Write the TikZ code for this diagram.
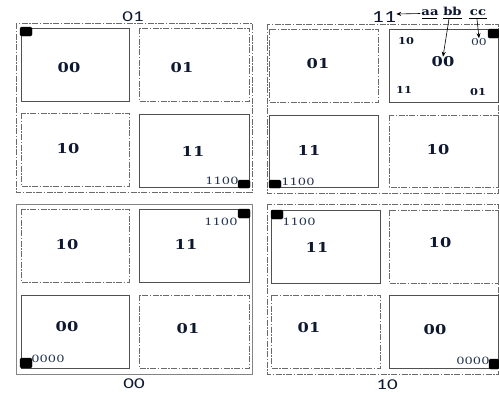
\documentclass[tikz,border=0pt]{standalone}
\usepackage{fontspec}
\setmainfont{DejaVu Serif}
\newfontfamily\cellfont[FakeStretch=1.2]{DejaVu Serif}
\newfontfamily\codefont[FakeStretch=1.3]{DejaVu Serif}
\newfontfamily\quadfont[FakeStretch=1.4]{Carlito}
\usetikzlibrary{arrows.meta}
\definecolor{ink}{HTML}{0E1830}
\definecolor{codeink}{HTML}{22344F}
\definecolor{frame}{HTML}{505050}
\tikzset{
  cell/.style={font=\cellfont\bfseries\fontsize{13.5}{14}\selectfont, text=ink, inner sep=0pt},
  code/.style={font=\codefont\fontsize{10}{10}\selectfont, text=codeink, inner sep=0pt},
  minor/.style={font=\cellfont\bfseries\fontsize{9.5}{10}\selectfont, text=ink, inner sep=0pt},
  quad/.style={font=\quadfont\fontsize{15}{15}\selectfont, text=ink, inner sep=0pt},
  tag/.style={font=\cellfont\bfseries\fontsize{11}{11}\selectfont, text=ink, inner sep=0pt},
  solidbox/.style={draw=frame, line width=0.85pt},
  dashbox/.style={draw=frame!85, line width=0.75pt, dash pattern=on 6pt off 1.5pt on 1.5pt off 1.5pt},
  blob/.style={fill=black, rounded corners=1.5pt},
  pointer/.style={-{Stealth[length=5pt,width=4pt]}, line width=0.6pt, draw=black},
}
\begin{document}
\begin{tikzpicture}[x=1pt,y=-1pt]
\useasboundingbox[fill=white] (0,0) rectangle (499,394);

% ---------- quadrant 01 (top left) ----------
\draw[dashbox] (16,23) rectangle (252,192);
\draw[solidbox] (21,28) rectangle (129,101);
\draw[dashbox]  (139,28) rectangle (249,101);
\draw[dashbox]  (21,113) rectangle (129,186);
\draw[solidbox] (139,114) rectangle (249,187);
\node[cell] (tl00) at (69,68) {00};
\node[cell] (tl01) at (182,68) {01};
\node[cell] (tl10) at (68,149) {10};
\node[cell] (tl11) at (193,151) {11};
\node[code] (tlc) at (222,181) {1100};
\draw[blob] (20,27) rectangle (32,36);
\draw[blob] (238,180) rectangle (250,188);
\node[quad] (q01) at (133,17) {01};

% ---------- quadrant 11 (top right) ----------
\draw[dashbox] (267,24) rectangle (498.5,193);
\draw[dashbox]  (269,29) rectangle (378,102);
\draw[solidbox] (389,29) rectangle (498,102);
\draw[solidbox] (269,115) rectangle (378,187);
\draw[dashbox]  (389,115) rectangle (498,187);
\node[cell] (tr01) at (318,64) {01};
\node[cell] (tr00) at (443,62) {00};
\node[minor] (tr00a) at (406,41) {10};
\node[font=\codefont\fontsize{9.5}{10}\selectfont, text=codeink, inner sep=0pt] (tr00b) at (479,42) {00};
\node[minor] (tr00c) at (404,90) {11};
\node[minor] (tr00d) at (478,92) {01};
\node[cell] (tr11) at (309,150) {11};
\node[cell] (tr10) at (438,150) {10};
\node[code] (trc) at (298,182) {1100};
\draw[blob] (488,29) rectangle (499,38);
\draw[blob] (269,180) rectangle (281,188);
\node[quad, font=\quadfont\fontsize{17}{17}\selectfont] (q11) at (384,17) {11};

% bit-pair tags with their pointers
\node[tag] (aa) at (430,12.5) {aa};
\node[tag] (bb) at (452.5,11) {bb};
\node[tag] (cc) at (478,12.5) {cc};
\draw[line width=0.5pt] (422,18.5) -- (437,18.5);
\draw[line width=0.5pt] (443,18.5) -- (462,18.5);
\draw[line width=0.5pt] (469,18.5) -- (487,18.5);
\draw[pointer] (aa.west) ++(-1,1) -- (q11.east |- 0,14);
\draw[pointer] (449,19) -- (tr00.north);
\draw[pointer] (477,19) -- (tr00b.north);

% ---------- quadrant 00 (bottom left) ----------
\draw[solidbox, draw=frame!70, line width=0.8pt] (16,204) rectangle (252,374);
\draw[dashbox]  (21,209) rectangle (129,282);
\draw[solidbox] (139,209) rectangle (249,282);
\draw[solidbox] (21,295) rectangle (129,368);
\draw[dashbox]  (139,295) rectangle (249,368);
\node[cell] (bl10) at (67,245) {10};
\node[cell] (bl11) at (186,244) {11};
\node[cell] (bl00) at (67,327) {00};
\node[cell] (bl01) at (188,329) {01};
\node[code] (blc1) at (221,222) {1100};
\node[code] (blc2) at (48,359) {0000};
\draw[blob] (238,209) rectangle (250,218);
\draw[blob] (20,358) rectangle (32,368);
\node[quad] (q00) at (134,384) {00};

% ---------- quadrant 10 (bottom right) ----------
\draw[dashbox] (267,204) rectangle (498.5,374);
\draw[solidbox] (271,210) rectangle (380,283);
\draw[dashbox]  (389,210) rectangle (498,283);
\draw[dashbox]  (271,295) rectangle (380,368);
\draw[solidbox] (389,295) rectangle (498,368);
\node[cell] (br11) at (317,247) {11};
\node[cell] (br10) at (440,243) {10};
\node[cell] (br01) at (309,328) {01};
\node[cell] (br00) at (435,330) {00};
\node[code] (brc1) at (299,222) {1100};
\node[code] (brc2) at (473,361) {0000};
\draw[blob] (271,210) rectangle (283,219);
\draw[blob] (489,359) rectangle (499,369);
\node[quad] (q10) at (387,385) {10};
\end{tikzpicture}
\end{document}
